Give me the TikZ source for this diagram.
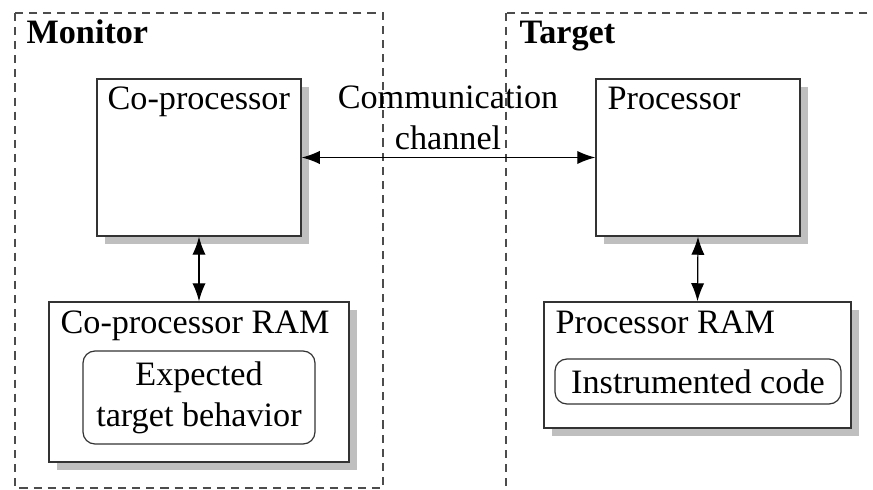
\documentclass[tikz,border=0pt]{standalone}
\usepackage{fontspec}
\setmainfont{Liberation Serif}
\usetikzlibrary{arrows.meta,shadows}
\begin{document}
\begin{tikzpicture}[x=0.33333pt,y=-0.33333pt,
  font=\fontsize{11.4}{13.6}\selectfont,
  frame/.style={draw=black!70, line width=0.4pt, dash pattern=on 2.7pt off 2pt},
  unit/.style={draw=black!80, line width=0.5pt, fill=white, inner sep=0pt,
    drop shadow={shadow xshift=2.67pt, shadow yshift=-2.67pt, fill=black!25, opacity=1}},
  inner/.style={draw=black!80, line width=0.4pt, rounded corners=4pt, inner sep=0pt, align=center},
  lbl/.style={anchor=base west, inner sep=0pt},
  conn/.style={line width=0.4pt, {Latex[length=6pt,width=4.4pt]}-{Latex[length=6pt,width=4.4pt]}}]
\useasboundingbox (0,0) rectangle (873,490);
\clip (0,0) rectangle (873,490);
% frames
\draw[frame] (15,13) rectangle (383,488);
\draw[frame] (506,13) rectangle (920,520);
\node[lbl, font=\fontsize{11.4}{13.6}\selectfont\bfseries] (mon) at (26,44) {Monitor};
\node[lbl, font=\fontsize{11.4}{13.6}\selectfont\bfseries] (tgt) at (519,44) {Target};
% boxes
\node[unit, minimum width=68pt, minimum height=52.33pt] (cop) at (199,157.5) {};
\node[lbl] (copl) at (107,110) {Co-processor};
\node[unit, minimum width=68pt, minimum height=52.33pt] (pro) at (698,157.5) {};
\node[lbl] (prol) at (607,110) {Processor};
\node[unit, minimum width=100pt, minimum height=53.33pt] (cram) at (199,382) {};
\node[lbl] (craml) at (60,334) {Co-processor RAM};
\node[unit, minimum width=102.33pt, minimum height=42pt] (pram) at (697.5,365) {};
\node[lbl] (praml) at (555,334) {Processor RAM};
\node[inner, minimum width=77.33pt, minimum height=31pt] (exp) at (199,397.5) {Expected\\target behavior};
\node[inner, minimum width=95.33pt, minimum height=15pt] (ins) at (698,381.5) {Instrumented code};
% connectors
\draw[conn] (cop.east) -- (pro.west);
\node[align=center, inner sep=0pt] (chl) at (448,118) {Communication\\channel};
\draw[conn] (cop.south) -- (cram.north);
\draw[conn] (pro.south) -- (pram.north);
\end{tikzpicture}
\end{document}
